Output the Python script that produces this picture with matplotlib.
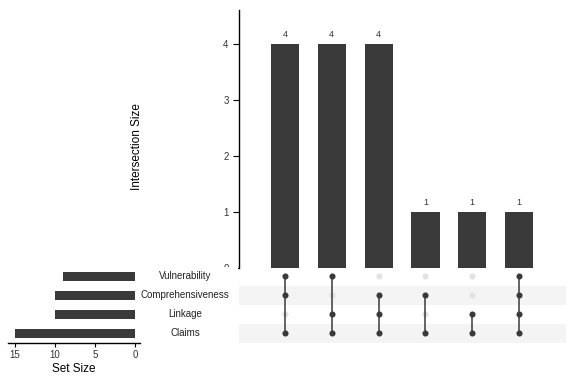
import matplotlib
matplotlib.use('Agg')
import matplotlib.pyplot as plt
from matplotlib.patches import Rectangle

plt.rcParams['font.family'] = ['Liberation Sans', 'DejaVu Sans']

# Data
set_names = ['Vulnerability', 'Comprehensiveness', 'Linkage', 'Claims']
set_sizes = [9, 10, 10, 15]
intersections = [
    ['Vulnerability', 'Comprehensiveness', 'Claims'],
    ['Vulnerability', 'Linkage', 'Claims'],
    ['Comprehensiveness', 'Linkage', 'Claims'],
    ['Comprehensiveness', 'Claims'],
    ['Linkage', 'Claims'],
    ['Vulnerability', 'Comprehensiveness', 'Linkage', 'Claims'],
]
inter_sizes = [4, 4, 4, 1, 1, 1]

BAR = '#3a3a3a'
TXT = '#333333'
W, H = 576, 384


def px_axes(fig, left, top, right, bottom):
    return fig.add_axes([left / W, 1 - bottom / H, (right - left) / W, (bottom - top) / H])


fig = plt.figure(figsize=(5.76, 3.84), dpi=100)

# --- intersection size bars ---
ax = px_axes(fig, 239, 10, 566, 268)
xs = list(range(len(inter_sizes)))
ax.bar(xs, inter_sizes, width=0.6, color=BAR)
for x, v in zip(xs, inter_sizes):
    ax.text(x, v + 0.08, str(v), ha='center', va='bottom', fontsize=6.5, color=TXT)
ax.set_xlim(-0.98, 6.0)
ax.set_ylim(0, 4.6)
ax.set_yticks([0, 1, 2, 3, 4])
ax.tick_params(axis='y', labelsize=7, length=4, width=0.8)
for lbl in ax.get_yticklabels():
    lbl.set_color(TXT)
ax.set_xticks([])
for s in ['top', 'right', 'bottom']:
    ax.spines[s].set_visible(False)
ax.spines['left'].set_linewidth(1.0)
fig.text(137 / W, 1 - 147 / H, 'Intersection Size', rotation=90, ha='center', va='center',
         fontsize=8.5, color='black')

# lower panels cover most of the "0" tick label, as in the original
fig.patches.append(Rectangle((200 / W, 0), 38 / W, 1 - 266.5 / H, transform=fig.transFigure,
                             facecolor='white', edgecolor='none', zorder=1))

# --- matrix ---
mx = px_axes(fig, 239, 266.5, 566, 342.5)
mx.set_zorder(2)
n = len(set_names)
row_y = {name: n - 1 - i for i, name in enumerate(set_names)}
for i, name in enumerate(set_names):
    if i % 2 == 1:
        mx.axhspan(row_y[name] - 0.5, row_y[name] + 0.5, color='#f4f4f4', lw=0, zorder=0)
for x, members in zip(xs, intersections):
    for name in set_names:
        on = name in members
        mx.plot(x, row_y[name], 'o', ms=4.4, color=BAR if on else '#e2e2e2',
                mec='none', zorder=3 if on else 1)
    ys = [row_y[m] for m in members]
    mx.plot([x, x], [min(ys), max(ys)], color=BAR, lw=1.1, zorder=2)
mx.set_xlim(-0.98, 6.0)
mx.set_ylim(-0.5, n - 0.5)
mx.axis('off')

# --- set labels ---
for name in set_names:
    y_px = 266.5 + (n - 1 - row_y[name] + 0.5) * 19
    fig.text(185 / W, 1 - y_px / H, name, ha='center', va='center', fontsize=7,
             color='#222222', zorder=3)

# --- set size bars ---
sx = px_axes(fig, 8, 266.5, 140, 343)
sx.barh([row_y[nm] for nm in set_names], set_sizes, height=0.47, color=BAR)
sx.set_xlim(15.875, -0.625)
sx.set_ylim(-0.5, n - 0.5)
sx.set_xticks([15, 10, 5, 0])
sx.tick_params(axis='x', labelsize=7, length=3, width=0.8, pad=2)
for lbl in sx.get_xticklabels():
    lbl.set_color(TXT)
sx.set_yticks([])
for s in ['top', 'right', 'left']:
    sx.spines[s].set_visible(False)
sx.spines['bottom'].set_linewidth(1.0)
fig.text(74 / W, 1 - 369 / H, 'Set Size', ha='center', va='center', fontsize=8.5, color='black')

fig.savefig('out.png', dpi=100)
